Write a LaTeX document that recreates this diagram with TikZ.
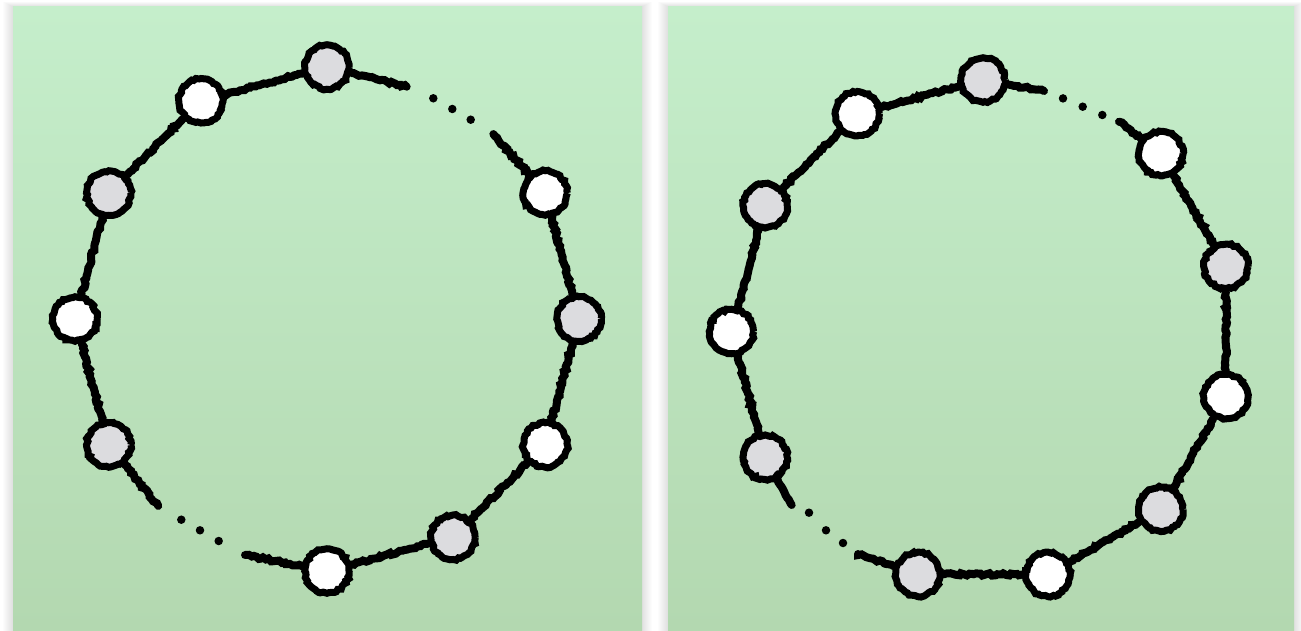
\documentclass[tikz,border=0pt]{standalone}
\usetikzlibrary{calc,decorations.pathmorphing}
\definecolor{pantop}{RGB}{197,238,203}
\definecolor{panbot}{RGB}{179,216,176}
\definecolor{nodegray}{RGB}{220,220,223}
\tikzset{
  nd/.style={circle, draw=black, line width=7pt, minimum size=44pt, inner sep=0pt,
    decorate, decoration={random steps, segment length=2.4pt, amplitude=1pt}},
  gnode/.style={nd, fill=nodegray},
  wnode/.style={nd, fill=white},
  link/.style={draw=black, line width=8pt, line cap=round,
    decorate, decoration={random steps, segment length=2.6pt, amplitude=1.2pt}},
  gapdot/.style={circle, fill=black, inner sep=0pt, minimum size=8.5pt},
  panel/.style={top color=pantop, bottom color=panbot, draw=none},
}
\begin{document}
\begin{tikzpicture}[x=1pt,y=1pt]
\useasboundingbox (0,0) rectangle (1301,630);
\fill[white] (0,0) rectangle (1301,630);
% soft shadows
\foreach \i in {1,...,10}{
  \fill[black, opacity=0.011] (13-\i,-5) rectangle (642+\i,623+0.5*\i);
  \fill[black, opacity=0.011] (668-\i,-5) rectangle (1294+\i,623+0.5*\i);
}
% panels
\path[panel] (13,0) rectangle (642,623);
\path[panel] (668,0) rectangle (1294,623);

% ---------- left ring ----------
\coordinate (cL) at (327,311);
\node[gnode] (L90)  at ($(cL)+(90:252)$)  {};
\node[wnode] (L120) at ($(cL)+(120:252)$) {};
\node[gnode] (L150) at ($(cL)+(150:252)$) {};
\node[wnode] (L180) at ($(cL)+(180:252)$) {};
\node[gnode] (L210) at ($(cL)+(210:252)$) {};
\node[wnode] (L270) at ($(cL)+(270:252)$) {};
\node[gnode] (L300) at ($(cL)+(300:252)$) {};
\node[wnode] (L330) at ($(cL)+(330:252)$) {};
\node[gnode] (L0)   at ($(cL)+(0:252)$)   {};
\node[wnode] (L30)  at ($(cL)+(30:252)$)  {};
\coordinate (La1) at (406.7,543.3);
\coordinate (La2) at (493.3,496);
\coordinate (Lb1) at (158.3,124);
\coordinate (Lb2) at (245,75);
\path[link] (L90) -- (L120);
\path[link] (L120) -- (L150);
\path[link] (L150) -- (L180);
\path[link] (L180) -- (L210);
\path[link] (L270) -- (L300);
\path[link] (L300) -- (L330);
\path[link] (L330) -- (L0);
\path[link] (L0) -- (L30);
\path[link] (L90) -- (La1);
\path[link] (L30) -- (La2);
\path[link] (L210) -- (Lb1);
\path[link] (L270) -- (Lb2);
\node[gapdot] (Ld1) at (433.3,531.7) {};
\node[gapdot] (Ld2) at (452.3,521) {};
\node[gapdot] (Ld3) at (470.7,510.3) {};
\node[gapdot] (Ld4) at (181.3,110.3) {};
\node[gapdot] (Ld5) at (200,99.7) {};
\node[gapdot] (Ld6) at (218.7,89) {};

% ---------- right ring ----------
\coordinate (cR) at (983,298.5);
\node[gnode] (R90)  at ($(cR)+(90:251.5)$)  {};
\node[wnode] (R120) at ($(cR)+(120:251.5)$) {};
\node[gnode] (R150) at ($(cR)+(150:251.5)$) {};
\node[wnode] (R180) at ($(cR)+(180:251.5)$) {};
\node[gnode] (R210) at ($(cR)+(210:251.5)$) {};
\node[gnode] (R255) at ($(cR)+(255:251.5)$) {};
\node[wnode] (R285) at ($(cR)+(285:251.5)$) {};
\node[gnode] (R315) at ($(cR)+(315:251.5)$) {};
\node[wnode] (R345) at ($(cR)+(345:251.5)$) {};
\node[gnode] (R15)  at ($(cR)+(15:251.5)$)  {};
\node[wnode] (R45)  at ($(cR)+(45:251.5)$)  {};
\coordinate (Ra1) at (1044,539);
\coordinate (Ra2) at (1119,508.3);
\coordinate (Rb1) at (791.7,125);
\coordinate (Rb2) at (858,76);
\path[link] (R90) -- (R120);
\path[link] (R120) -- (R150);
\path[link] (R150) -- (R180);
\path[link] (R180) -- (R210);
\path[link] (R255) -- (R285);
\path[link] (R285) -- (R315);
\path[link] (R315) -- (R345);
\path[link] (R345) -- (R15);
\path[link] (R15) -- (R45);
\path[link] (R90) -- (Ra1);
\path[link] (R45) -- (Ra2);
\path[link] (R210) -- (Rb1);
\path[link] (R255) -- (Rb2);
\node[gapdot] (Rd1) at (1063,531.6) {};
\node[gapdot] (Rd2) at (1082.7,523.3) {};
\node[gapdot] (Rd3) at (1102.3,515) {};
\node[gapdot] (Rd4) at (809,117.3) {};
\node[gapdot] (Rd5) at (826,99.7) {};
\node[gapdot] (Rd6) at (843,87) {};
\end{tikzpicture}
\end{document}
